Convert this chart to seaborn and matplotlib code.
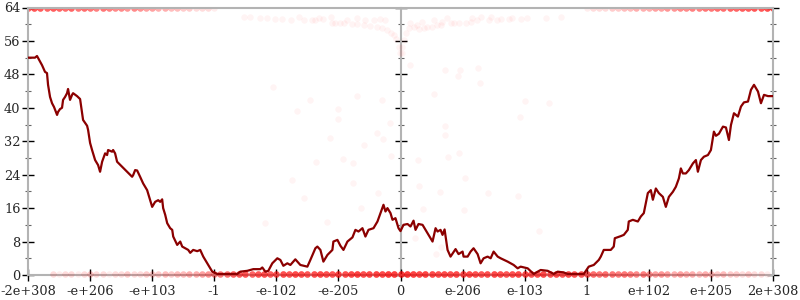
import numpy as np
import pandas as pd
import matplotlib
matplotlib.use("Agg")
import matplotlib.pyplot as plt
import seaborn as sns

# ---------------- data ----------------
tick_labels = ["-2e+308", "-e+206", "-e+103", "-1", "-e-102", "-e-205", "0",
               "e-206", "e-103", "1", "e+102", "e+205", "2e+308"]
tick_pos = list(range(-6, 7))

line_x = [-6.000, -5.887, -5.855, -5.774, -5.726, -5.694, -5.677, -5.645, -5.613, -5.581,
          -5.532, -5.516, -5.484, -5.452, -5.435, -5.403, -5.371, -5.355, -5.323, -5.290,
          -5.274, -5.210, -5.161, -5.129, -5.113, -5.048, -5.032, -5.000, -4.968, -4.919,
          -4.871, -4.839, -4.806, -4.758, -4.726, -4.710, -4.645, -4.629, -4.597, -4.565,
          -4.484, -4.403, -4.323, -4.306, -4.274, -4.242, -4.194, -4.145, -4.081, -4.032,
          -4.000, -3.952, -3.903, -3.871, -3.839, -3.823, -3.790, -3.758, -3.710, -3.677,
          -3.661, -3.597, -3.548, -3.516, -3.468, -3.419, -3.387, -3.339, -3.274, -3.226,
          -3.177, -3.097, -3.032, -2.952, -2.629, -2.581, -2.468, -2.371, -2.258, -2.226,
          -2.177, -2.129, -2.065, -1.984, -1.935, -1.887, -1.823, -1.774, -1.694, -1.613,
          -1.500, -1.452, -1.371, -1.339, -1.290, -1.242, -1.177, -1.097, -1.081, -1.016,
          -0.968, -0.919, -0.855, -0.774, -0.726, -0.677, -0.613, -0.565, -0.516, -0.435,
          -0.371, -0.323, -0.274, -0.242, -0.210, -0.161, -0.129, -0.081, -0.032, 0.000,
          0.048, 0.113, 0.161, 0.210, 0.242, 0.290, 0.355, 0.403, 0.452, 0.516,
          0.565, 0.597, 0.645, 0.677, 0.710, 0.758, 0.806, 0.887, 0.935, 1.000,
          1.016, 1.081, 1.129, 1.177, 1.242, 1.290, 1.339, 1.403, 1.452, 1.500,
          1.565, 1.613, 1.726, 1.823, 1.887, 1.935, 2.048, 2.145, 2.258, 2.371,
          2.468, 2.532, 2.629, 2.694, 2.952, 3.032, 3.113, 3.194, 3.226, 3.274,
          3.387, 3.435, 3.452, 3.548, 3.597, 3.661, 3.677, 3.742, 3.823, 3.871,
          3.919, 3.984, 4.032, 4.065, 4.113, 4.161, 4.226, 4.274, 4.323, 4.387,
          4.435, 4.484, 4.516, 4.548, 4.597, 4.645, 4.710, 4.758, 4.790, 4.839,
          4.887, 4.952, 5.000, 5.048, 5.081, 5.129, 5.194, 5.242, 5.290, 5.323,
          5.371, 5.435, 5.484, 5.532, 5.597, 5.645, 5.694, 5.758, 5.806, 5.855,
          5.919, 6.000]
line_y = [52.0, 52.0, 52.4, 50.2, 48.6, 48.3, 45.5, 42.6, 41.1, 40.2,
          38.3, 39.0, 39.7, 40.0, 41.9, 42.6, 43.5, 44.5, 41.9, 43.1,
          43.5, 42.8, 42.1, 38.8, 37.1, 35.7, 34.7, 31.6, 29.9, 27.5,
          26.3, 24.7, 27.1, 29.1, 28.7, 29.9, 29.5, 29.9, 29.1, 27.1,
          25.9, 24.7, 23.5, 23.9, 25.1, 25.0, 23.5, 21.9, 20.3, 17.9,
          16.3, 17.5, 17.9, 17.5, 18.1, 16.0, 14.4, 12.4, 11.2, 10.8,
          9.2, 7.2, 8.0, 6.8, 6.4, 6.0, 5.3, 6.0, 5.7, 6.0,
          4.4, 2.4, 0.8, 0.25, 0.25, 0.8, 1.0, 1.4, 1.4, 1.8,
          0.8, 1.0, 2.8, 4.0, 3.6, 2.2, 2.8, 2.4, 3.75, 2.4,
          2.0, 3.6, 6.4, 6.8, 6.0, 3.2, 4.8, 6.0, 8.0, 8.4,
          7.0, 6.0, 8.0, 9.0, 10.8, 10.4, 11.2, 9.2, 10.8, 11.2,
          12.8, 14.8, 16.8, 15.2, 16.0, 14.8, 13.2, 13.6, 11.2, 10.5,
          12.0, 12.2, 11.6, 13.0, 10.8, 12.2, 12.0, 10.8, 9.6, 8.0,
          11.2, 10.4, 10.8, 9.6, 10.9, 6.0, 4.4, 6.2, 5.0, 5.6,
          4.4, 4.4, 5.6, 6.4, 5.0, 2.8, 4.0, 4.4, 4.0, 5.6,
          4.4, 4.0, 3.2, 2.4, 1.6, 2.0, 1.6, 0.25, 1.2, 1.0,
          0.25, 0.8, 0.6, 0.25, 0.25, 2.0, 2.4, 3.6, 4.4, 6.0,
          6.0, 6.8, 8.8, 9.3, 9.6, 10.8, 12.8, 13.2, 12.8, 14.0,
          14.8, 19.6, 20.3, 18.0, 20.7, 19.6, 18.7, 16.3, 18.7, 19.9,
          21.1, 23.1, 25.5, 24.3, 24.3, 25.1, 26.7, 27.5, 24.7, 27.5,
          28.3, 28.7, 29.9, 34.3, 33.3, 33.8, 35.5, 35.3, 32.3, 35.9,
          38.7, 37.9, 40.3, 41.3, 41.5, 44.3, 45.5, 43.9, 41.1, 43.1,
          42.8, 42.8]

# isolated sample points
pts_x = [-2.527, -2.430, -2.269, -2.151, -2.016, -1.909, -1.763, -1.640, -1.559, -1.425,
         -1.371, -1.317, -1.247, -1.118, -1.102, -1.048, -0.978, -0.914, -0.860, -0.780,
         -0.699, -0.699, -0.591, -0.565, -0.484, -0.430, -0.376, -0.323, -0.296, -0.242,
         -0.215, -0.161, -0.108, -0.065, -0.027, -0.011,
         0.027, 0.027, 0.054, 0.081, 0.134, 0.161, 0.215, 0.269, 0.296, 0.349,
         0.376, 0.430, 0.511, 0.538, 0.591, 0.645, 0.672, 0.753, 0.806, 0.860,
         0.941, 1.048, 1.129, 1.156, 1.237, 1.290, 1.425, 1.452, 1.559, 1.613,
         1.747, 1.801, 1.935, 2.043, 2.339, 2.581,
         -2.048, -1.452, -1.661, -1.000, -1.000, -1.129, -0.581, -0.694, -0.290, -0.177,
         -0.371, -0.274, -1.355, -0.919, -0.758, -0.161, -0.758, -1.742, -1.548, -0.355,
         -0.629, -1.177, -2.177,
         0.161, 0.710, 0.952, 1.242, 0.919, 1.274, 0.532, 2.000, 2.387, 1.919,
         0.710, 0.710, 0.274, 0.758, 0.935, 1.032, 0.290, 0.629, 1.403, 1.887,
         0.355, 1.016, 2.226, 0.226, 0.645, 0.565]
pts_y = [61.7, 61.7, 61.6, 61.4, 61.3, 61.3, 61.0, 61.7, 61.0, 60.9,
         61.0, 61.4, 61.2, 61.8, 60.4, 60.4, 60.2, 60.4, 61.0, 60.1,
         61.4, 60.1, 59.8, 60.9, 59.6, 61.0, 59.3, 61.2, 59.0, 60.9,
         58.5, 58.0, 57.4, 56.4, 54.6, 53.0,
         54.6, 53.0, 56.2, 57.8, 59.0, 60.2, 59.4, 59.8, 58.8, 60.6,
         59.0, 59.4, 59.4, 61.0, 59.8, 59.8, 60.6, 61.4, 60.2, 60.2,
         60.2, 60.4, 60.6, 61.4, 60.9, 61.8, 61.0, 61.7, 61.0, 61.2,
         61.2, 61.4, 61.2, 61.4, 61.4, 61.7,
         45.0, 41.9, 39.2, 39.7, 37.3, 32.8, 31.1, 42.8, 41.9, 36.4,
         34.0, 32.5, 27.0, 27.7, 26.8, 28.5, 22.0, 22.7, 18.4, 19.6,
         16.0, 12.7, 12.4,
         50.3, 49.0, 49.0, 49.6, 47.6, 45.9, 43.3, 41.6, 41.1, 37.8,
         35.7, 33.5, 27.5, 28.2, 29.2, 23.2, 21.3, 19.9, 19.6, 18.9,
         15.8, 15.6, 10.5, 8.9, 6.7, 5.0]

# dense bands: number of samples per 0.1-wide x bin
bottom_start, bottom_value = -5.6, 0.3
bottom_counts = [2, 1, 2, 2, 1, 2, 3, 2, 2, 1, 2, 2, 3, 2, 2, 3,
                 3, 3, 4, 3, 4, 4, 5, 5,
                 6, 7, 8, 9, 10,
                 12, 13, 14, 12, 14, 15, 13, 14, 15, 14, 16, 15, 14, 15, 16, 15, 14, 16,
                 15, 16, 17, 15, 16, 17, 16, 18, 18,
                 18, 18, 17, 16, 17, 16, 15, 16, 15, 16, 15, 16, 15, 14, 15, 16, 15, 14,
                 15, 16, 15, 14, 15, 16, 14, 15, 14, 15, 14, 13,
                 12, 11, 10, 11, 10, 9, 10, 9, 8, 9,
                 7, 6, 7, 6, 5, 6, 5, 5, 4, 5,
                 4, 3, 4, 3, 3, 2, 3, 2, 2, 1]
top_left_start, top_value = -6.0, 64.0
top_left_counts = [12, 14, 13, 12, 13, 12, 11, 12, 10, 11, 10, 9, 10, 9, 8, 8,
                   7, 8, 7, 6, 6, 5, 5, 4, 4, 3, 3, 2, 2, 2, 1]
top_right_start = 3.0
top_right_counts = [1, 2, 2, 2, 3, 3, 4, 4, 5, 5, 5, 6, 6, 7, 7, 8, 8, 9, 9, 10,
                    10, 11, 11, 12, 12, 13, 13, 14, 14, 15, 16]


def band(start, counts, yval):
    centers = np.round(start + 0.1 * np.arange(len(counts)), 2)
    xs = np.repeat(centers, counts)
    return pd.DataFrame({"x": xs, "y": np.full(len(xs), yval)})


bottom_df = band(bottom_start, bottom_counts, bottom_value)
top_df = pd.concat([band(top_left_start, top_left_counts, top_value),
                    band(top_right_start, top_right_counts, top_value)])
pts_df = pd.DataFrame({"x": pts_x, "y": pts_y})
line_df = pd.DataFrame({"x": line_x, "y": line_y})

# ---------------- style ----------------
sns.set_style("white")
plt.rcParams["font.family"] = ["DejaVu Serif"]

fig = plt.figure(figsize=(8, 3), dpi=100)
ax = fig.add_axes([28 / 800, 25 / 300, 745 / 800, 267.5 / 300])

dot_kw = dict(color="#ff0000", s=22, linewidth=0)
sns.scatterplot(data=bottom_df, x="x", y="y", ax=ax, zorder=3, clip_on=False, legend=False,
                alpha=0.07, **dot_kw)
sns.scatterplot(data=top_df, x="x", y="y", ax=ax, zorder=2, legend=False, alpha=0.07, **dot_kw)
sns.scatterplot(data=pts_df, x="x", y="y", ax=ax, zorder=3, legend=False, alpha=0.045, **dot_kw)
sns.lineplot(data=line_df, x="x", y="y", ax=ax, color="#8b0000", linewidth=1.6,
             estimator=None, sort=False, zorder=4)

ax.set_xlim(-6, 6)
ax.set_ylim(0, 64)
ax.set_xlabel("")
ax.set_ylabel("")
ax.set_xticks(tick_pos)
ax.set_xticklabels(tick_labels)
ax.set_yticks(range(0, 65, 8))
ax.set_yticks(range(4, 64, 8), minor=True)

spine_col = "#b3b3b3"
for sp in ax.spines.values():
    sp.set_visible(True)
    sp.set_color(spine_col)
    sp.set_linewidth(1.5)

ax.tick_params(axis="both", which="major", direction="inout", length=8, width=1,
               color="black", labelsize=9.3, pad=1.5)
ax.tick_params(axis="x", which="major", pad=3)
ax.tick_params(axis="y", which="minor", direction="inout", length=5, width=0.8, color="#666666")
ax.tick_params(axis="y", which="both", left=True, right=True, labelright=False)
ax.tick_params(axis="x", which="both", bottom=True, top=False)

mid = ax.secondary_yaxis(0.5)
mid.set_yticks(range(0, 65, 8))
mid.set_yticks(range(4, 64, 8), minor=True)
mid.set_yticklabels([])
mid.tick_params(which="major", direction="inout", length=8, width=1, color="black")
mid.tick_params(which="minor", direction="inout", length=5, width=0.8, color="#666666")
for sp in mid.spines.values():
    sp.set_color(spine_col)
    sp.set_linewidth(1.5)

fig.savefig("out.png", dpi=100)
